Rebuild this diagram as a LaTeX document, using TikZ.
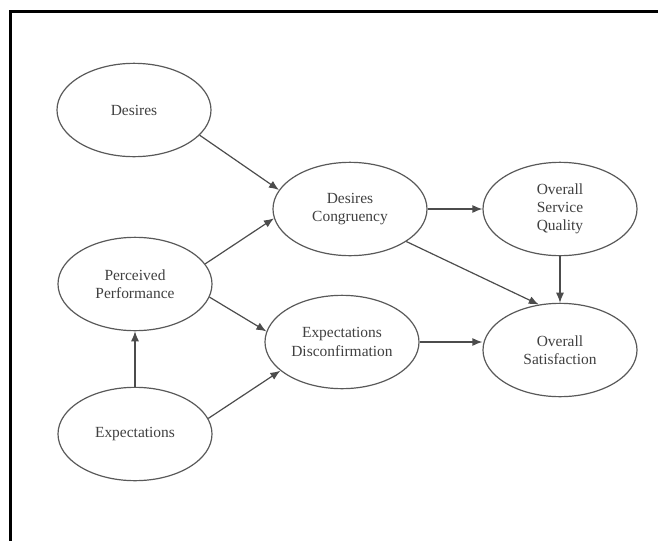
\documentclass[tikz,border=0pt]{standalone}
\usepackage{fontspec}
\setmainfont{Liberation Serif}
\usetikzlibrary{shapes.geometric,arrows.meta}
\begin{document}
\begin{tikzpicture}[x=0.75pt,y=-0.75pt,
  construct/.style={ellipse,draw=black!65,line width=0.9pt,inner sep=0pt,
    minimum width=115.5pt,minimum height=70pt,align=center,
    font=\fontsize{11.6}{13.6}\selectfont,text=black!75},
  link/.style={draw=black!70,line width=0.9pt,
    -{Latex[length=7.5pt,width=6pt]}}]
\useasboundingbox (0,0) rectangle (658,540);
% frame
\draw[line width=2.4pt,line cap=rect] (10.5,540) -- (10.5,11.5) -- (658,11.5);
% constructs
\node[construct] (des) at (134,110) {Desires};
\node[construct] (perf) at (135,284) {Perceived\\Performance};
\node[construct] (exp) at (135,434) {Expectations};
\node[construct] (cong) at (350,209) {Desires\\Congruency};
\node[construct] (disc) at (342,342) {Expectations\\Disconfirmation};
\node[construct] (sq) at (560,209) {Overall\\Service\\Quality};
\node[construct] (sat) at (560,350) {Overall\\Satisfaction};
% relationships
\draw[link] (des.-21) -- (cong.165);
\draw[link] (perf.16) -- (cong.187);
\draw[link] (perf.-10) -- (disc.172);
\draw[link] (exp) -- (perf);
\draw[link] (exp.12) -- (disc.205);
\draw[link] (cong) -- (sq);
\draw[link] (cong.-30) -- (sat.115);
\draw[link] (sq) -- (sat);
\draw[link] (disc.east) -- (sat.west |- disc.east);
\end{tikzpicture}
\end{document}
